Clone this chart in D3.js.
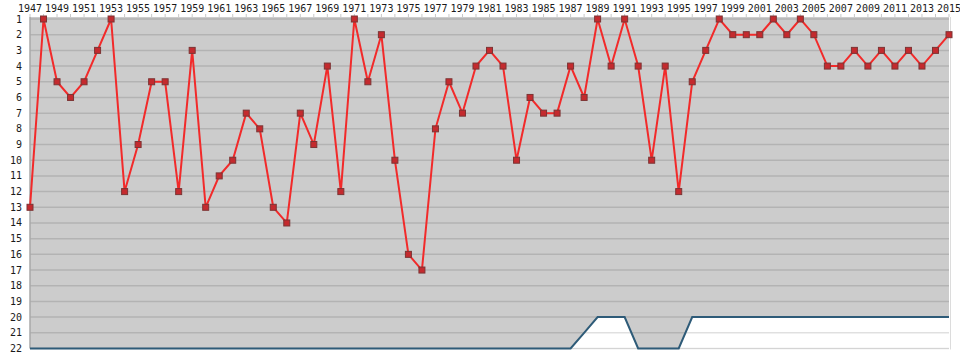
<!DOCTYPE html>
<html>
<head>
<meta charset="utf-8">
<script src="https://cdnjs.cloudflare.com/ajax/libs/d3/7.8.5/d3.min.js"></script>
<style>
  body { margin: 0; background: #fff; }
  text { font-family: "DejaVu Sans Mono", monospace; font-size: 10px; fill: #1a1a1a; }
</style>
</head>
<body>
<div id="chart"></div>
<script>
// League position per season, 1947 - 2015
const years = d3.range(1947, 2016);
const positions = [
  13, 1, 5, 6, 5, 3, 1, 12, 9, 5,
  5, 12, 3, 13, 11, 10, 7, 8, 13, 14,
  7, 9, 4, 12, 1, 5, 2, 10, 16, 17,
  8, 5, 7, 4, 3, 4, 10, 6, 7, 7,
  4, 6, 1, 4, 1, 4, 10, 4, 12, 5,
  3, 1, 2, 2, 2, 1, 2, 1, 2, 4,
  4, 3, 4, 3, 4, 3, 4, 3, 2
];
// number of teams in the league
const teams = [
  22, 22, 22, 22, 22, 22, 22, 22, 22, 22,
  22, 22, 22, 22, 22, 22, 22, 22, 22, 22,
  22, 22, 22, 22, 22, 22, 22, 22, 22, 22,
  22, 22, 22, 22, 22, 22, 22, 22, 22, 22,
  22, 21, 20, 20, 20, 22, 22, 22, 22, 20,
  20, 20, 20, 20, 20, 20, 20, 20, 20, 20,
  20, 20, 20, 20, 20, 20, 20, 20, 20
];
const yearLabels = years.filter((y) => y % 2 === 1);
const posLabels = d3.range(1, 23);

const width = 960, height = 360;
const x = d3.scaleLinear().domain([1947, 2015]).range([30, 949]);
const y = d3.scaleLinear().domain([1, 22]).range([19, 348.5]);

const svg = d3.select("#chart").append("svg")
  .attr("width", width)
  .attr("height", height);

const data = years.map((yr, i) => ({ year: yr, pos: positions[i], teams: teams[i] }));

// grey plot background
svg.append("rect")
  .attr("x", x(1947))
  .attr("y", y(1) - 2)
  .attr("width", x(2015) - x(1947))
  .attr("height", y(22) - y(1) + 2)
  .attr("fill", "#cccccc");

// white area below the number of teams
svg.append("path")
  .datum(data)
  .attr("fill", "#fff")
  .attr("d", d3.area()
    .x((d) => x(d.year))
    .y0(y(22))
    .y1((d) => y(d.teams)));

// grid lines
svg.append("g")
  .selectAll("line")
  .data(posLabels)
  .join("line")
  .attr("x1", x(1947))
  .attr("x2", x(2015))
  .attr("y1", (d) => y(d))
  .attr("y2", (d) => y(d))
  .attr("stroke", "rgba(0,0,0,0.12)")
  .attr("stroke-width", 1.5);

// plot borders
svg.append("line")
  .attr("x1", x(1947)).attr("x2", x(1947))
  .attr("y1", y(1) - 2).attr("y2", y(22))
  .attr("stroke", "#a8a8a8").attr("stroke-width", 1.5);
svg.append("line")
  .attr("x1", x(2015) + 1.5).attr("x2", x(2015) + 1.5)
  .attr("y1", y(1) - 2).attr("y2", y(22) + 1)
  .attr("stroke", "#dcdcdc").attr("stroke-width", 1);

// top axis: ticks every year, labels every other year
svg.append("g")
  .selectAll("line")
  .data(years)
  .join("line")
  .attr("x1", (d) => x(d))
  .attr("x2", (d) => x(d))
  .attr("y1", y(1) - 5)
  .attr("y2", y(1) - 2)
  .attr("stroke", "#c8c8c8");

svg.append("g")
  .selectAll("text")
  .data(yearLabels)
  .join("text")
  .attr("x", (d) => x(d))
  .attr("y", 12)
  .attr("text-anchor", "middle")
  .text((d) => d);

// left axis labels
svg.append("g")
  .selectAll("text")
  .data(posLabels)
  .join("text")
  .attr("x", 22)
  .attr("y", (d) => y(d))
  .attr("dy", "0.35em")
  .attr("text-anchor", "end")
  .text((d) => d);

// number of teams line
svg.append("path")
  .datum(data)
  .attr("fill", "none")
  .attr("stroke", "#2e5b78")
  .attr("stroke-width", 2)
  .attr("d", d3.line().x((d) => x(d.year)).y((d) => y(d.teams)));

// league position line
svg.append("path")
  .datum(data)
  .attr("fill", "none")
  .attr("stroke", "#f22a2a")
  .attr("stroke-width", 2)
  .attr("d", d3.line().x((d) => x(d.year)).y((d) => y(d.pos)));

svg.append("g")
  .selectAll("rect")
  .data(data)
  .join("rect")
  .attr("x", (d) => x(d.year) - 3)
  .attr("y", (d) => y(d.pos) - 3)
  .attr("width", 6)
  .attr("height", 6)
  .attr("fill", "#c42a2e")
  .attr("stroke", "#7c3434")
  .attr("stroke-width", 1);
</script>
</body>
</html>
